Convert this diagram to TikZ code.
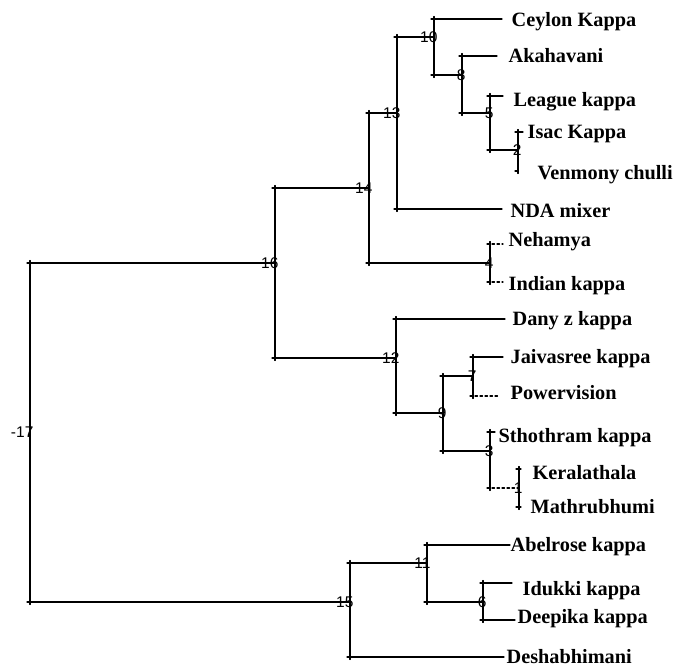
\documentclass[tikz,border=0pt]{standalone}
\usepackage{fontspec}
\setmainfont{Liberation Serif}
\newfontfamily\numfont{Liberation Sans}
\usetikzlibrary{positioning}
\begin{document}
\begin{tikzpicture}[x=1pt,y=-1pt,line join=round, line cap=round,>=stealth]
			\tikzset{every path/.style={line width=1.2pt,black},
				leaf/.style={font=\fontsize{20.3}{24}\selectfont\bfseries,inner sep=0pt,text height=18pt,text depth=5pt,anchor=west},
				num/.style={font=\numfont\fontsize{15.5}{18}\selectfont,inner sep=0pt,anchor=east},
				sdash/.style={dash pattern=on 2.5pt off 2.5pt}}
			\useasboundingbox (0,0) rectangle (675,669);
			\foreach \n/\x/\y/\t in {17/30/432/-17,16/275/263/16,15/350/602/15,14/369/188/14,12/396/358/12,13/397/113/13,4/490/263/4,10/434/37/10,8/462/75/8,5/490/113/5,2/518/150/2,9/443/413/9,7/473/376/7,3/490/451/3,1/519/488/1,11/427/563/11,6/483/602/6}
			{\coordinate (n\n) at (\x,\y);
			\node[num] (l\n) at ([xshift=4pt]n\n) {\t};}
			\foreach \nm/\x/\y/\g/\dy/\t in {ceylon/502/19/9/-1/Ceylon Kappa,akahavani/497/56/11/0/Akahavani,league/503/96/10/-4/League kappa,isac/523/132/4/0/Isac Kappa,venmony/518/171/19/-2/Venmony chulli,nda/502/209/8/-2/NDA mixer,nehamya/503/244/5/4/Nehamya,indian/503/282/5/-2/Indian kappa,dany/505/319/7/0/Dany z kappa,jaivasree/503/357/7/0/Jaivasree kappa,powervision/498/396/12/3/Powervision,sthothram/495/432/3/-4/Sthothram kappa,keralathala/521/469/11/-4/Keralathala,mathrubhumi/521/507/9/0/Mathrubhumi,abelrose/510/545/0/0/Abelrose kappa,idukki/512/583/10/-6/Idukki kappa,deepika/515/620/2/3/Deepika kappa,deshabhimani/504/657/2/0/Deshabhimani}
			{\coordinate (\nm-e) at (\x,\y);
			\node[leaf, right=\g pt of \nm-e, yshift=\dy pt] (\nm) {\t};}
			\foreach \p/\c/\s in {n17/n16/solid,n17/n15/solid,n16/n14/solid,n16/n12/solid,n14/n13/solid,n14/n4/solid,n13/n10/solid,n13/nda-e/solid,n10/ceylon-e/solid,n10/n8/solid,n8/akahavani-e/solid,n8/n5/solid,n5/league-e/solid,n5/n2/solid,n2/isac-e/solid,n2/venmony-e/solid,n4/nehamya-e/sdash,n4/indian-e/sdash,n12/dany-e/solid,n12/n9/solid,n9/n7/solid,n9/n3/solid,n7/jaivasree-e/solid,n7/powervision-e/sdash,n3/sthothram-e/solid,n3/n1/sdash,n1/keralathala-e/solid,n1/mathrubhumi-e/solid,n15/n11/solid,n15/deshabhimani-e/solid,n11/abelrose-e/solid,n11/n6/solid,n6/idukki-e/solid,n6/deepika-e/solid}
			{\draw (\p |- \c) -- (\p.center);
			\draw ([yshift=2.5pt]\p |- \c) -- ([yshift=-2.5pt]\p |- \c);
			\draw[\s] ([xshift=-3pt]\p |- \c) -- (\c);}
		\end{tikzpicture}
\end{document}
